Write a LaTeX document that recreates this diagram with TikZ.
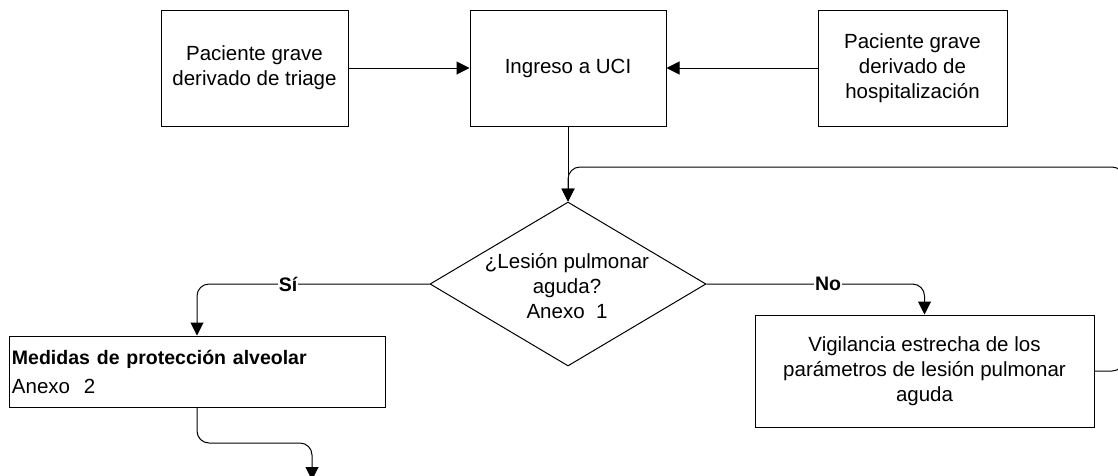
\documentclass[tikz,border=0pt]{standalone}
\usepackage{fontspec}
\setmainfont{Liberation Sans}
\usetikzlibrary{arrows.meta,shapes.geometric}
\begin{document}
\begin{tikzpicture}[x=1pt,y=-1pt,line width=1pt,
  every node/.style={font=\fontsize{20.5}{25}\selectfont},
  box/.style={draw, rectangle, inner sep=0pt, align=center},
  arr/.style={-{Triangle[length=13pt,width=13pt]}},
  lbl/.style={fill=white, inner sep=1pt, font=\fontsize{19.5}{25}\selectfont\bfseries},
  roundbend/.style={rounded corners=12pt}]
\useasboundingbox (0,0) rectangle (1118,475);
\clip (0,0) rectangle (1118,475);
\fill[white] (0,0) rectangle (1118,475);

\node[box, minimum width=187, minimum height=116] (b1) at (254.5,68) {Paciente grave\\derivado de triage};
\node[box, minimum width=196, minimum height=116] (b2) at (568,68) {Ingreso a UCI};
\node[box, minimum width=189, minimum height=116] (b3) at (912.5,68) {Paciente grave\\derivado de\\hospitalización};
\node[draw, diamond, minimum width=276, minimum height=164, inner sep=0pt] (dia) at (568,284) {};
\node[align=center] (dtxt) at (567,286) {¿Lesión pulmonar\\aguda?\\Anexo~ 1};
\node[box, minimum width=339, minimum height=112] (vig) at (924.5,371) {Vigilancia estrecha de los\\parámetros de lesión pulmonar\\aguda};
\node[box, align=left, text width=370, minimum width=376, minimum height=71] (med) at (197,371.5) {{\fontsize{19.5}{25}\selectfont\bfseries Medidas de protección alveolar}\\[4pt]Anexo~ 2};

\coordinate (loopR) at (1124,167);
\coordinate (bendB) at (312,443);
\coordinate (endB) at (312,480);

\draw[arr] (b1.east) -- (b2.west);
\draw[arr] (b3.west) -- (b2.east);
\draw[arr] (b2.south) -- (dia.north);
\draw[arr, roundbend] (vig.east) -- (vig.east -| loopR) -- (loopR) -- (loopR -| dia.north) -- (dia.north);
\draw[arr, roundbend] (dia.west) -- (dia.west -| med.north) -- (med.north);
\draw[arr, roundbend] (dia.east) -- (dia.east -| vig.north) -- (vig.north);
\draw[arr, roundbend] (med.south) -- (med.south |- bendB) -- (bendB) -- (endB);

\node[lbl] (si) at (288,284) {Sí};
\node[lbl] (no) at (828,284) {No};
\end{tikzpicture}
\end{document}
